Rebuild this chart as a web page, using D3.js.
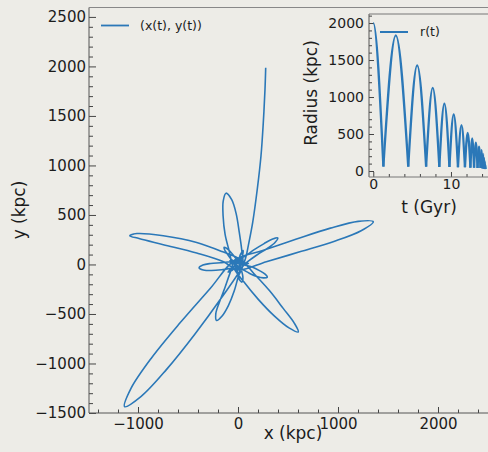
<!DOCTYPE html>
<html><head><meta charset="utf-8">
<script src="https://cdn.jsdelivr.net/npm/d3@7"></script>
<style>html,body{margin:0;padding:0;background:#edece7;} svg{display:block;}</style>
</head><body><svg id="c" width="488" height="452"></svg>
<script>
// ---- data: orbit (x(t), y(t)) in kpc ----
const orbitX = [277,270,253,230,193,147,103,80,45,
 -160,-430,-716,-968,-1134,-1070,-865,-577,-276,
 -32,
 247,585,924,1202,1353,1231,966,626,283,
 3,
 -150,-413,-747,-990,-1082,-1010,-747,-413,-160,
 35,
 158,314,454,564,603,510,365,205,56,
 -50,
 -84,-129,-149,-148,-120,-63,-18,12,38,
 49,
 4,-38,-95,-159,-214,-222,-186,-132,-81,
 -34,
 59,158,261,347,398,370,294,192,93,
 14,
 -68,-166,-266,-347,-389,-351,-273,-174,-73,
 8,
 64,142,215,271,293,254,188,113,41,
 -23,
 -39,-77,-110,-134,-140,-115,-80,-44,-8,
 33,
 23,38,48,48,38,20,4,-6,-11,
 -30,
 4,25,51,46,26,
 23,
 -23,-63,-99,-74,-35,
 -9,
 29,72,104,74,31,
 -4,
 -27,-59,-81,-53,-20,
 13,
 16,32,40,23,6,
 -17,
 -5,0,5,
 2];
const orbitY = [1987,1769,1433,1098,762,426,191,80,-20,
 -329,-702,-1062,-1332,-1436,-1252,-944,-587,-240,
 45,
 141,257,367,435,432,341,235,130,28,
 -55,
 30,115,200,262,290,312,290,222,130,
 42,
 -91,-264,-446,-594,-682,-641,-522,-355,-173,
 -22,
 120,304,489,640,720,654,511,330,141,
 -9,
 -121,-269,-413,-521,-566,-498,-381,-238,-90,
 29,
 76,147,211,257,268,222,163,98,25,
 -43,
 -39,-54,-61,-55,-34,-6,10,18,27,
 39,
 -2,-25,-62,-98,-128,-135,-122,-89,-49,
 -27,
 21,64,110,149,173,164,133,90,43,
 13,
 -28,-72,-118,-157,-178,-163,-127,-82,-34,
 5,
 45,102,141,94,37,
 -16,
 -30,-61,-77,-46,-15,
 23,
 11,15,11,0,-5,
 -22,
 5,22,39,33,18,
 15,
 -15,-41,-64,-47,-21,
 -5,
 17,60,17,
 0];

// ---- data: r(t) — apocentres and pericentres (t in Gyr, r in kpc) ----
const apoT  = [0, 2.9, 5.65, 7.65, 9.15, 10.35, 11.35, 12.15, 12.73, 13.2, 13.61, 13.94, 14.13, 14.245, 14.345, 14.425];
const apoR  = [2000, 1833, 1428, 1123, 912, 764, 620, 516, 440, 382, 328, 283, 230, 180, 130, 80];
const periT = [1.3, 4.5, 6.8, 8.5, 9.8, 10.9, 11.8, 12.5, 12.97, 13.42, 13.8, 14.07, 14.19, 14.3, 14.39, 14.46];
const periR = [60, 60, 60, 55, 55, 50, 50, 45, 45, 40, 40, 35, 35, 30, 30, 25];

// ---- ticks ----
const xMajor = [-1000, 0, 1000, 2000];
const yMajor = [-1500, -1000, -500, 0, 500, 1000, 1500, 2000, 2500];
const tMajor = [0, 10];
const rMajor = [0, 500, 1000, 1500, 2000];

const BG = "#edece7", LINE = "#2b78b8", TXT = "#1c1c1c", FONT = "DejaVu Sans";
const svg = d3.select("#c");
svg.append("rect").attr("width",488).attr("height",452).attr("fill",BG);

// ================= main axes =================
const xS = d3.scaleLinear().domain([-1490, 2600]).range([89, 498]);
const yS = d3.scaleLinear().domain([-1500, 2595]).range([413, 7.5]);

const xMinor = d3.range(-1400, 2601, 200).filter(v => !xMajor.includes(v));
const yMinor = d3.range(-1500, 2596, 100).filter(v => !yMajor.includes(v));

function styleAxis(g, fs){
  g.select(".domain").remove();
  g.selectAll(".tick line").attr("stroke","#444").attr("stroke-width",1);
  g.selectAll("text").attr("font-family",FONT).attr("font-size",fs).attr("fill",TXT);
}
const gx = svg.append("g").attr("transform","translate(0,413)")
  .call(d3.axisBottom(xS).tickValues(xMajor).tickFormat(d3.format("d")).tickSize(-6).tickPadding(5));
styleAxis(gx, 15);
const gxm = svg.append("g").attr("transform","translate(0,413)")
  .call(d3.axisBottom(xS).tickValues(xMinor).tickFormat("").tickSize(-3.5));
styleAxis(gxm, 15);
const gy = svg.append("g").attr("transform","translate(89,0)")
  .call(d3.axisLeft(yS).tickValues(yMajor).tickFormat(d3.format("d")).tickSize(-7).tickPadding(3));
styleAxis(gy, 15);
const gym = svg.append("g").attr("transform","translate(89,0)")
  .call(d3.axisLeft(yS).tickValues(yMinor).tickFormat("").tickSize(-4));
styleAxis(gym, 15);

// spines
svg.append("line").attr("x1",89).attr("x2",89).attr("y1",yS.range()[1]).attr("y2",413).attr("stroke","#555").attr("stroke-width",1);
svg.append("line").attr("x1",89).attr("x2",498).attr("y1",413).attr("y2",413).attr("stroke","#555").attr("stroke-width",1);
svg.append("line").attr("x1",89).attr("x2",498).attr("y1",7.5).attr("y2",7.5).attr("stroke","#888").attr("stroke-width",1);

// orbit
const orbit = orbitX.map((x,i) => [x, orbitY[i]]);
svg.append("path").datum(orbit)
  .attr("d", d3.line().x(d=>xS(d[0])).y(d=>yS(d[1])).curve(d3.curveCatmullRom.alpha(0.5)))
  .attr("fill","none").attr("stroke",LINE).attr("stroke-width",1.6).attr("stroke-linejoin","round");

// labels
svg.append("text").attr("x",293).attr("y",439).attr("text-anchor","middle")
  .attr("font-family",FONT).attr("font-size",17).attr("fill",TXT).text("x (kpc)");
svg.append("text").attr("transform","translate(25,210) rotate(-90)").attr("text-anchor","middle")
  .attr("font-family",FONT).attr("font-size",17).attr("fill",TXT).text("y (kpc)");

// legend
svg.append("line").attr("x1",101).attr("x2",129).attr("y1",25.5).attr("y2",25.5).attr("stroke",LINE).attr("stroke-width",1.8);
svg.append("text").attr("x",140).attr("y",25.5).attr("dy","0.35em")
  .attr("font-family",FONT).attr("font-size",12.5).attr("fill",TXT).text("(x(t), y(t))");

// ================= inset =================
const tS = d3.scaleLinear().domain([-0.55, 15.6]).range([369, 494.5]);
const rS = d3.scaleLinear().domain([-81, 2122]).range([177, 14]);

svg.append("rect").attr("x",369).attr("y",14).attr("width",126).attr("height",163).attr("fill",BG);

const tMinor = d3.range(0, 15.6, 2).filter(v => !tMajor.includes(v));
const rMinor = d3.range(0, 2122, 100).filter(v => !rMajor.includes(v));

const gt = svg.append("g").attr("transform","translate(0,177)")
  .call(d3.axisBottom(tS).tickValues(tMajor).tickFormat(d3.format("d")).tickSize(-5).tickPadding(2));
styleAxis(gt, 14);
const gtm = svg.append("g").attr("transform","translate(0,177)")
  .call(d3.axisBottom(tS).tickValues(tMinor).tickFormat("").tickSize(-3));
styleAxis(gtm, 14);
const gr = svg.append("g").attr("transform","translate(369,0)")
  .call(d3.axisLeft(rS).tickValues(rMajor).tickFormat(d3.format("d")).tickSize(-5).tickPadding(5));
styleAxis(gr, 14);
const grm = svg.append("g").attr("transform","translate(369,0)")
  .call(d3.axisLeft(rS).tickValues(rMinor).tickFormat("").tickSize(-3));
styleAxis(grm, 14);

svg.append("line").attr("x1",369).attr("x2",369).attr("y1",14).attr("y2",177).attr("stroke","#555");
svg.append("line").attr("x1",369).attr("x2",495).attr("y1",177).attr("y2",177).attr("stroke","#777");
svg.append("line").attr("x1",369).attr("x2",495).attr("y1",14).attr("y2",14).attr("stroke","#777");

svg.append("defs").append("clipPath").attr("id","insetClip")
  .append("rect").attr("x",tS(0)).attr("y",10).attr("width",495-tS(0)).attr("height",167);

// build arches: each arch goes pericentre -> apocentre -> pericentre
const arches = [];
arches.push([[apoT[0]-(periT[0]-apoT[0]), periR[0]], [apoT[0], apoR[0]], [periT[0], periR[0]]]);
for (let k = 1; k < apoT.length; k++) {
  arches.push([[periT[k-1], periR[k-1]], [apoT[k], apoR[k]], [periT[k], periR[k]]]);
}
const rLine = d3.line().x(d=>tS(d[0])).y(d=>rS(d[1])).curve(d3.curveMonotoneX);
svg.append("g").attr("clip-path","url(#insetClip)").selectAll("path").data(arches).join("path")
  .attr("d", rLine).attr("fill","none").attr("stroke",LINE).attr("stroke-width",2.3).attr("stroke-linejoin","round");

svg.append("line").attr("x1",380).attr("x2",408).attr("y1",32).attr("y2",32).attr("stroke",LINE).attr("stroke-width",2);
svg.append("text").attr("x",420).attr("y",32).attr("dy","0.35em")
  .attr("font-family",FONT).attr("font-size",12.5).attr("fill",TXT).text("r(t)");

svg.append("text").attr("x",429).attr("y",213).attr("text-anchor","middle")
  .attr("font-family",FONT).attr("font-size",17).attr("fill",TXT).text("t (Gyr)");
svg.append("text").attr("transform","translate(317,93) rotate(-90)").attr("text-anchor","middle")
  .attr("font-family",FONT).attr("font-size",17).attr("fill",TXT).text("Radius (kpc)");
</script></body></html>
